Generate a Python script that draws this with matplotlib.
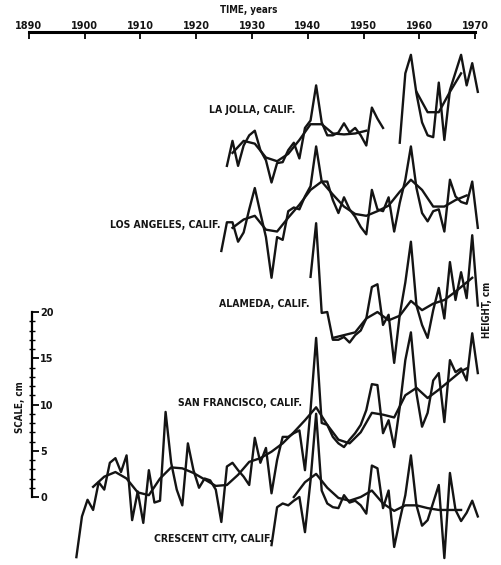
import numpy as np
import matplotlib
matplotlib.use("Agg")
import matplotlib.pyplot as plt
from matplotlib.ticker import MultipleLocator

# annual mean sea level anomalies, cm (one value per year, plotted at mid-year)
sf_start = 1898
sf_height = [-6.5, -2.1, -0.3, -1.4, 1.6, 0.8, 3.7, 4.2, 2.7, 4.5,
             -2.5, 0.6, -2.8, 2.9, -0.6, -0.4, 9.2, 3.7, 0.8, -0.9,
             5.8, 2.9, 1.0, 2.0, 1.8, 0.8, -2.7, 3.3, 3.7, 2.9,
             2.2, 1.3, 6.4, 3.7, 5.3, 0.4, 4.0, 6.5, 6.5, 6.9,
             7.2, 2.9, 9.4, 17.2, 8.0, 7.8, 6.5, 5.8, 5.4, 6.2,
             6.9, 7.8, 9.4, 12.2, 12.1, 6.9, 8.3, 5.4, 9.7, 14.8,
             17.8, 11.2, 7.6, 9.1, 12.6, 13.4, 8.1, 14.8, 13.5, 13.9,
             12.6, 17.7, 13.4]
sf_smooth_years = [1901, 1903, 1905, 1907, 1909, 1911, 1913, 1915, 1917, 1919,
                   1921, 1923, 1925, 1927, 1929, 1931, 1933, 1935, 1937, 1939,
                   1941, 1943, 1945, 1947, 1949, 1951, 1953, 1955, 1957, 1959,
                   1961, 1963, 1965, 1967, 1968]
sf_smooth = [1.1, 2.2, 2.7, 2.0, 0.5, 0.2, 2.0, 3.2, 3.1, 2.6,
             1.9, 1.2, 1.3, 2.4, 3.8, 4.2, 4.9, 5.8, 7.0, 8.3,
             9.7, 7.8, 6.2, 5.8, 7.0, 9.1, 8.9, 8.6, 11.0, 11.8,
             10.7, 11.6, 12.6, 13.6, 13.9]

cc_start = 1933
cc_height = [-1.6, 2.5, 2.9, 2.7, 3.2, 3.6, -0.2, 5.4, 12.6, 4.3,
             2.9, 2.5, 2.4, 3.8, 3.0, 3.2, 2.7, 1.8, 7.0, 6.7,
             2.4, 4.3, -1.8, 1.1, 3.8, 8.1, 2.7, 0.5, 1.1, 3.0,
             4.9, -3.0, 6.2, 2.2, 1.0, 1.9, 3.2, 1.5]
cc_smooth_years = list(range(1937, 1968, 2))
cc_smooth = [3.6, 5.2, 6.1, 4.6, 3.5, 3.2, 3.6, 4.3, 2.9, 2.1,
             2.7, 2.7, 2.4, 2.2, 2.2, 2.2]

al_start = 1940
al_height = [9.0, 14.8, 5.1, 5.2, 2.2, 2.2, 2.5, 1.9, 2.7, 3.2,
             4.5, 7.9, 8.2, 3.8, 4.9, -0.3, 4.9, 8.4, 12.8, 5.9,
             3.8, 2.4, 5.4, 7.8, 4.5, 10.6, 6.5, 9.5, 6.7, 13.5,
             5.9]
al_smooth_years = [1944, 1946, 1948, 1950, 1952, 1954, 1956, 1958, 1960, 1962,
                   1964, 1966, 1968, 1969]
al_smooth = [2.4, 2.7, 3.0, 4.5, 5.2, 4.3, 4.8, 6.4, 5.4, 6.1,
             6.5, 7.4, 8.4, 8.9]

la_start = 1924
la_height = [3.1, 6.2, 6.2, 4.1, 5.1, 7.6, 9.9, 7.2, 4.6, 0.2,
             4.6, 4.3, 7.4, 7.8, 7.6, 9.0, 10.1, 14.4, 10.6, 10.6,
             8.6, 7.2, 8.9, 7.6, 6.8, 5.7, 4.9, 9.7, 7.6, 7.4,
             8.9, 5.2, 8.3, 10.8, 14.4, 9.9, 7.2, 6.3, 7.4, 7.6,
             5.2, 10.8, 9.0, 8.4, 8.2, 10.6, 5.6]
la_smooth_years = list(range(1926, 1969, 2))
la_smooth = [5.6, 6.5, 6.9, 5.4, 5.2, 6.7, 8.1, 9.7, 10.6, 9.2,
             7.9, 7.1, 6.9, 7.4, 8.0, 9.5, 10.8, 9.7, 7.9, 7.9,
             8.6, 9.1]

# La Jolla has no record for 1954-55
lj_start = 1925
lj_height = [2.1, 4.8, 2.1, 4.3, 5.4, 5.9, 3.8, 2.7, 0.3, 2.4,
             2.5, 3.8, 4.6, 2.9, 6.2, 7.0, 10.8, 6.8, 5.4, 5.4,
             5.7, 6.7, 5.7, 6.2, 5.4, 4.3, 8.4, 7.2, 6.2, np.nan,
             np.nan, 4.6, 12.1, 14.1, 9.9, 6.8, 5.4, 5.2, 11.1, 4.9,
             10.3, 12.2, 14.1, 10.8, 13.2, 10.1]
lj_smooth_years = [1926, 1928, 1930, 1932, 1934, 1936, 1938, 1940, 1942, 1944,
                   1946, 1948, 1950, 1952, 1959, 1961, 1963, 1965, 1967]
lj_smooth = [3.5, 4.8, 4.5, 3.0, 2.6, 3.4, 4.9, 6.6, 6.6, 5.6,
             5.5, 5.6, 5.9, np.nan, 10.1, 7.9, 7.9, 10.1, 12.1]

stations = ["CRESCENT CITY, CALIF.", "SAN FRANCISCO, CALIF.", "ALAMEDA, CALIF.",
            "LOS ANGELES, CALIF.", "LA JOLLA, CALIF."]
# vertical shift of each record on the common cm scale
offsets = [-3.6, 0.0, 14.8, 23.5, 33.7]

ink = "#141414"
font = dict(family=["Liberation Sans Narrow", "DejaVu Sans"], weight="bold",
            stretch="condensed", color=ink)

fig = plt.figure(figsize=(5.01, 5.65), dpi=100)
ax = fig.add_axes([0, 0, 1, 1])
ax.patch.set_visible(False)
ax.set_xlim(1884.8, 1974.66)
ax.set_ylim(-7.35, 53.73)

records = [
    (cc_start, cc_height, cc_smooth_years, cc_smooth),
    (sf_start, sf_height, sf_smooth_years, sf_smooth),
    (al_start, al_height, al_smooth_years, al_smooth),
    (la_start, la_height, la_smooth_years, la_smooth),
    (lj_start, lj_height, lj_smooth_years, lj_smooth),
]
for (start, h, sy, sm), off in zip(records, offsets):
    yrs = np.arange(start, start + len(h)) + 0.5
    ax.plot(yrs, np.array(h) + off, color=ink, lw=1.7)
    ax.plot(np.array(sy) + 0.5, np.array(sm) + off, color=ink, lw=1.7)

# station names, right-aligned against the start of each record
label_pos = [(1933.6, -4.5), (1939.0, 10.2), (1940.4, 20.9), (1924.3, 29.4), (1937.7, 41.8)]
for name, (lx, ly) in zip(stations, label_pos):
    ax.text(lx, ly, name, ha="right", va="center", fontsize=7.5, **font)

# cm scale bar drawn on the right spine, moved to the left margin
for s in ["top", "bottom", "left"]:
    ax.spines[s].set_visible(False)
ax.spines["right"].set_position(("data", 1890.55))
ax.spines["right"].set_bounds(0, 20)
ax.spines["right"].set_linewidth(1.6)
ax.yaxis.set_ticks_position("right")
ax.yaxis.set_major_locator(MultipleLocator(5))
ax.yaxis.set_minor_locator(MultipleLocator(1))
ax.set_yticks(range(0, 21, 5))
ax.set_yticks(range(0, 21), minor=True)
ax.set_yticklabels(["0", "5", "10", "15", "20"])
ax.tick_params(axis="y", which="major", direction="out", length=5, width=1.4,
               pad=1, labelsize=7, colors=ink)
ax.tick_params(axis="y", which="minor", direction="inout", length=4, width=1.0)
for t in ax.get_yticklabels():
    t.set_fontfamily(font["family"])
    t.set_fontweight("bold")
ax.set_xticks([])
ax.text(1888.4, 9.7, "SCALE, cm", rotation=90, ha="center", va="center", fontsize=7, **font)
ax.text(1972.15, 20.2, "HEIGHT, cm", rotation=90, ha="center", va="center", fontsize=7, **font)

# time axis across the top
tax = fig.add_axes([0, 1 - 32 / 565, 1, 1e-4])
tax.patch.set_visible(False)
tax.set_xlim(ax.get_xlim())
tax.set_yticks([])
for s in ["top", "left", "right"]:
    tax.spines[s].set_visible(False)
tax.spines["bottom"].set_bounds(1890, 1970)
tax.spines["bottom"].set_linewidth(2.2)
tax.set_xticks(range(1890, 1971, 10))
tax.tick_params(axis="x", bottom=True, top=False, labelbottom=False, labeltop=True,
                direction="out", length=5, width=1.4, pad=-4, labelsize=7, colors=ink)
for t in tax.get_xticklabels():
    t.set_fontfamily(font["family"])
    t.set_fontweight("bold")
fig.text(249 / 501, 1 - 10 / 565, "TIME, years", ha="center", va="center", fontsize=7, **font)

fig.savefig("out.png", dpi=100)
